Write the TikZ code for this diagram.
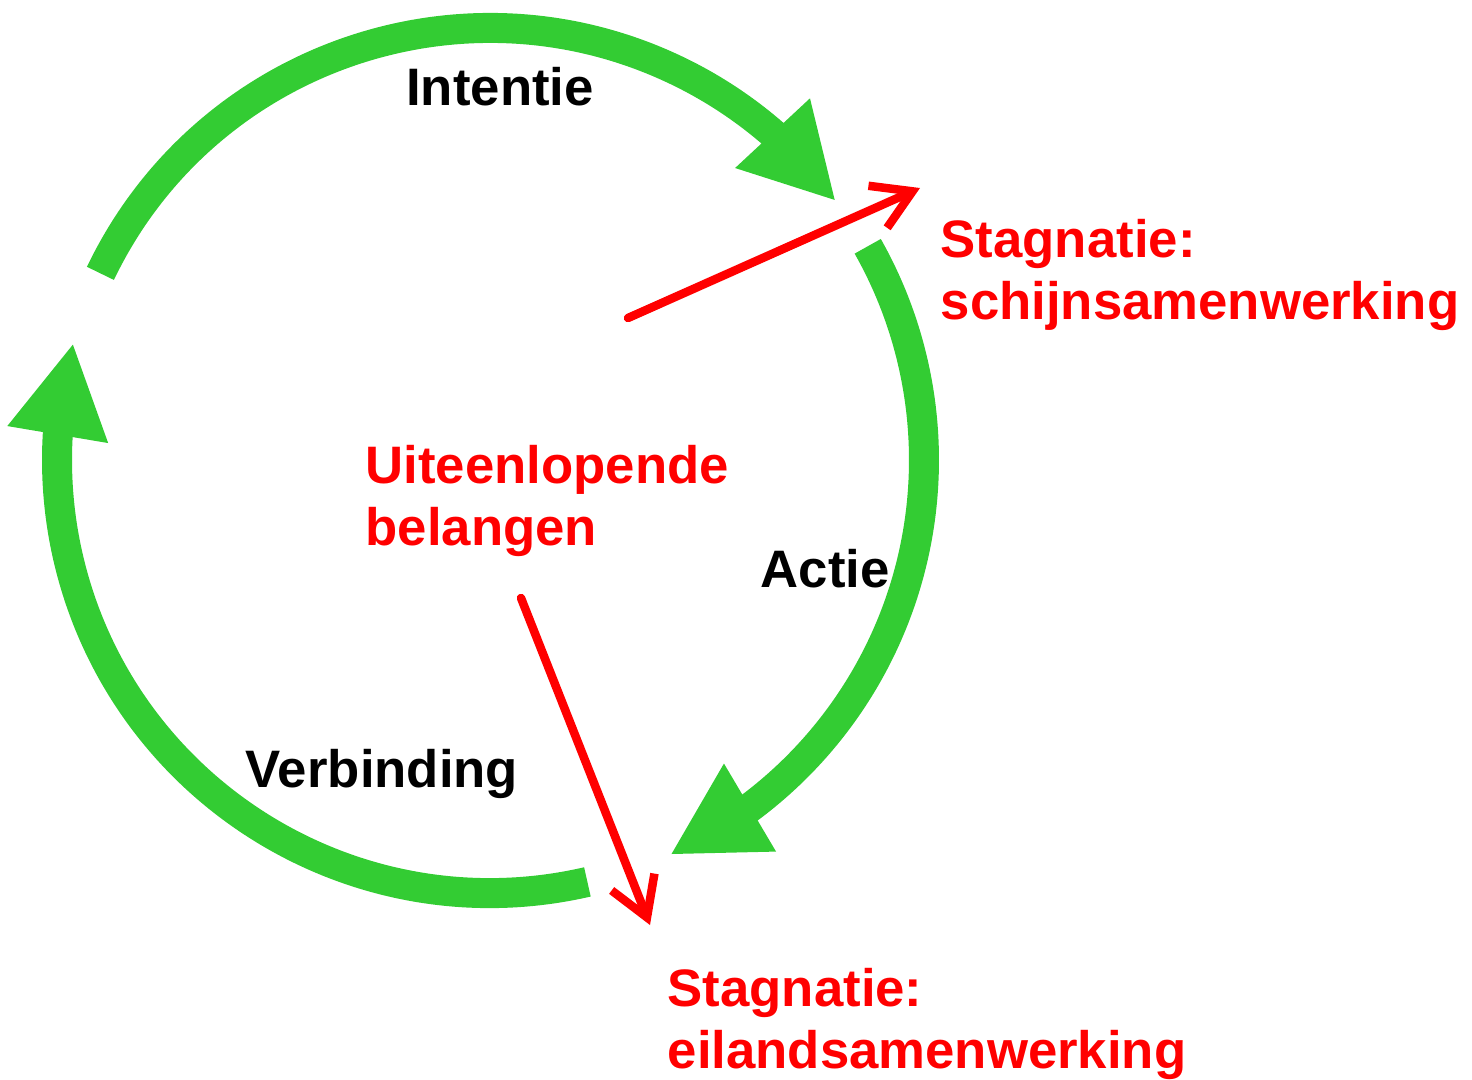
\documentclass[tikz,border=0pt]{standalone}
\usepackage{fontspec}
\setmainfont{Liberation Sans}
\usetikzlibrary{arrows.meta,positioning,bending}
\definecolor{CycleGreen}{RGB}{51,204,51}
\definecolor{StagRed}{RGB}{255,0,0}
\tikzset{
  cyclearc/.style={draw=CycleGreen,line width=3mm,
    -{Triangle[flex,length=9.3mm,width=9.5mm]}},
  stagarrow/.style={draw=StagRed,line width=0.85mm,line cap=round,
    line join=round,-{Straight Barb[length=3.8mm,width=4.6mm]}},
  phaselabel/.style={font=\fontsize{15}{17.6}\selectfont\bfseries,
    text=black,inner sep=0pt},
  staglabel/.style={font=\fontsize{15}{17.6}\selectfont\bfseries,
    text=StagRed,align=left,inner sep=0pt},
}
\begin{document}
\begin{tikzpicture}
  \useasboundingbox (0,0) rectangle (14.72,-10.79);
  \coordinate (mid) at (4.9,-4.6);
  % de cyclus
  \draw[cyclearc] (mid) ++(154.4:4.32) arc[start angle=154.4,end angle=36.8,radius=4.32];
  \draw[cyclearc] (mid) ++(29.5:4.34) arc[start angle=29.5,end angle=-65.5,radius=4.34];
  \draw[cyclearc] (mid) ++(-77:4.33) arc[start angle=-77,end angle=-195.7,radius=4.33];
  \node[phaselabel,anchor=base] (intentie) at (5.0,-1.05) {Intentie};
  \node[phaselabel,anchor=base west] (actie) at (7.6,-5.87) {Actie};
  \node[phaselabel,anchor=base west] (verbinding) at (2.45,-7.87) {Verbinding};
  % belangen en stagnatie (base = laatste regel)
  \node[staglabel,anchor=base west] (belangen) at (3.65,-5.45) {Uiteenlopende\\belangen};
  \node[staglabel,anchor=base west] (schijn) at (9.4,-3.19) {Stagnatie:\\schijnsamenwerking};
  \node[staglabel,anchor=base west] (eiland) at (6.67,-10.68) {Stagnatie:\\eilandsamenwerking};
  \coordinate (s1) at (6.28,-3.18);
  \coordinate (e1) at (9.2,-1.88);
  \coordinate (s2) at (5.21,-5.98);
  \coordinate (e2) at (6.5,-9.25);
  \draw[stagarrow] (s1) -- (e1);
  \draw[stagarrow] (s2) -- (e2);
\end{tikzpicture}
\end{document}
